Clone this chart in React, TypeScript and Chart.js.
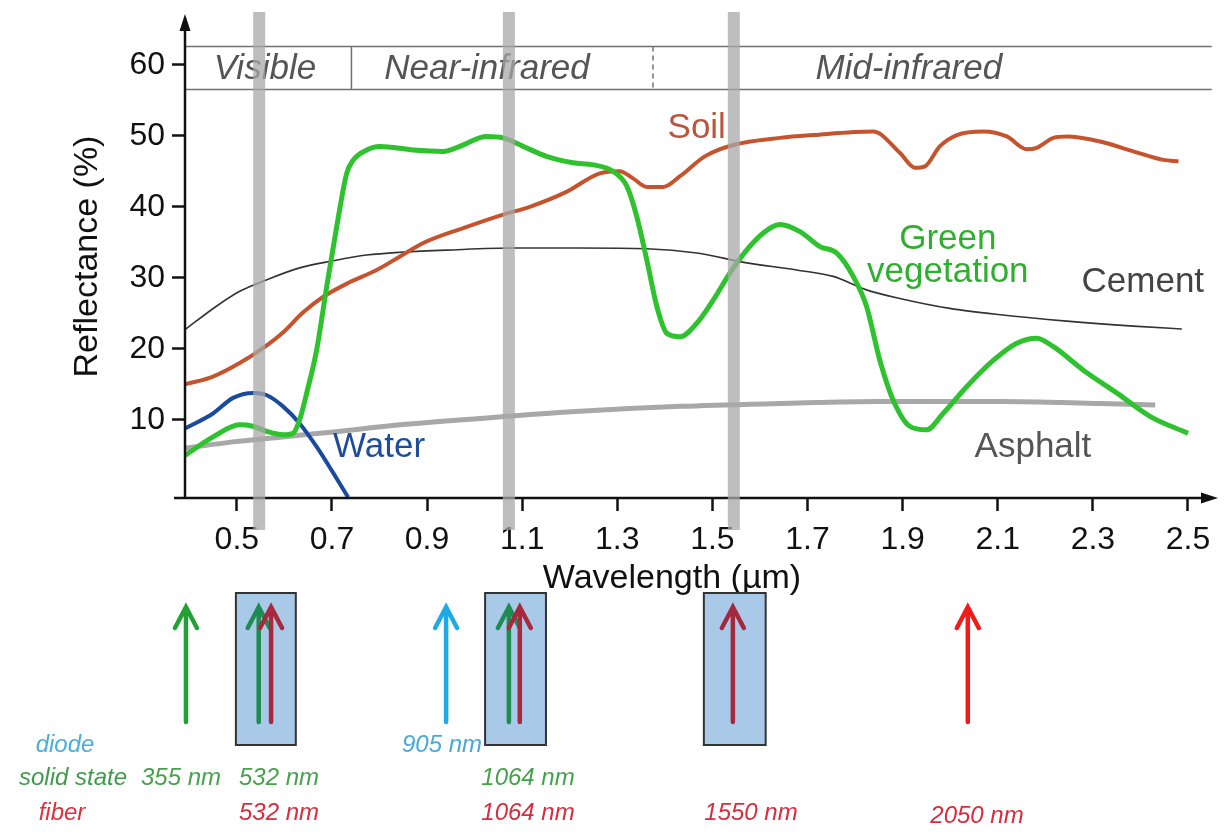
import React, { useEffect, useRef } from 'react';
import { Chart, registerables } from 'chart.js';

Chart.register(...registerables);

const FONT = "'Liberation Sans', Arial, Helvetica, sans-serif";

// ---- data (wavelength in µm, reflectance in %) ----
const wavelengthTicks = [0.5, 0.7, 0.9, 1.1, 1.3, 1.5, 1.7, 1.9, 2.1, 2.3, 2.5];
const reflectanceTicks = [10, 20, 30, 40, 50, 60];

const soil: [number, number][] = [
  [0.391, 15.0], [0.45, 16.1], [0.506, 18.0], [0.555, 20.1], [0.597, 22.3], [0.639, 25.1],
  [0.681, 27.3], [0.738, 29.4], [0.794, 31.1], [0.843, 33.0], [0.892, 34.9], [0.976, 37.0],
  [1.06, 38.9], [1.116, 40.0], [1.193, 42.1], [1.263, 44.7], [1.305, 45.0], [1.333, 44.0],
  [1.362, 42.8], [1.397, 42.8], [1.432, 44.3], [1.484, 47.1], [1.544, 48.7], [1.642, 49.7],
  [1.712, 50.1], [1.838, 50.6], [1.894, 47.6], [1.926, 45.5], [1.947, 45.7], [1.978, 48.5],
  [2.014, 50.1], [2.07, 50.6], [2.119, 49.9], [2.161, 48.1], [2.182, 48.3], [2.217, 49.7],
  [2.245, 49.9], [2.315, 49.2], [2.385, 47.8], [2.448, 46.6], [2.48, 46.4],
];

const vegetation: [number, number][] = [
  [0.391, 5.0], [0.45, 7.6], [0.506, 9.3], [0.534, 9.1], [0.562, 8.4], [0.597, 7.9],
  [0.618, 8.1], [0.632, 10.0], [0.647, 13.8], [0.668, 19.9], [0.689, 28.8], [0.71, 37.2],
  [0.731, 44.7], [0.745, 46.6], [0.773, 48.0], [0.80, 48.5], [0.871, 48.0], [0.934, 47.8],
  [0.969, 48.5], [1.025, 49.9], [1.06, 49.7], [1.102, 48.5], [1.151, 47.1], [1.207, 46.2],
  [1.25, 45.9], [1.291, 45.0], [1.32, 42.9], [1.341, 38.6], [1.362, 32.5], [1.383, 26.0],
  [1.404, 22.2], [1.432, 21.7], [1.467, 23.6], [1.502, 26.9], [1.537, 30.7], [1.572, 33.9],
  [1.607, 36.3], [1.642, 37.5], [1.684, 36.5], [1.726, 34.4], [1.761, 33.5], [1.796, 30.2],
  [1.824, 26.0], [1.852, 18.4], [1.88, 12.8], [1.915, 9.1], [1.95, 8.6], [1.985, 10.9],
  [2.035, 14.7], [2.091, 18.4], [2.14, 20.8], [2.182, 21.5], [2.217, 20.3], [2.28, 17.0],
  [2.35, 13.8], [2.42, 10.5], [2.50, 8.1],
];

const water: [number, number][] = [
  [0.391, 8.8], [0.45, 10.9], [0.492, 13.1], [0.534, 13.8], [0.562, 13.5], [0.597, 11.9],
  [0.632, 9.5], [0.668, 6.2], [0.703, 2.5], [0.734, -0.9],
];

const cement: [number, number][] = [
  [0.391, 22.7], [0.457, 26.0], [0.506, 28.1], [0.562, 29.7], [0.632, 31.4], [0.703, 32.4],
  [0.773, 33.2], [0.843, 33.6], [0.941, 33.9], [1.081, 34.2], [1.221, 34.2], [1.362, 34.1],
  [1.467, 33.5], [1.572, 32.1], [1.677, 31.1], [1.754, 30.2], [1.824, 28.3], [1.894, 27.1],
  [1.999, 25.7], [2.105, 24.8], [2.245, 23.9], [2.385, 23.2], [2.487, 22.8],
];

const asphalt: [number, number][] = [
  [0.391, 6.0], [0.492, 6.9], [0.597, 7.6], [0.703, 8.3], [0.843, 9.3], [1.011, 10.2],
  [1.221, 11.2], [1.432, 11.9], [1.642, 12.3], [1.852, 12.6], [2.105, 12.6], [2.315, 12.3],
  [2.431, 12.1],
];

const regionNames = ['Visible', 'Near-infrared', 'Mid-infrared'];
const regionEdges = [0.391, 0.741, 1.375, 2.55];

const laserLines = [0.547, 1.072, 1.545];
const laserBoxes: [number, number][] = [[0.498, 0.624], [1.022, 1.150], [1.482, 1.612]];

const laserTypes = ['diode', 'solid state', 'fiber'];
const sourceLabels = ['355 nm', '532 nm', '532 nm', '905 nm', '1064 nm', '1064 nm', '1550 nm', '2050 nm'];
const sourceTypes = ['solid state', 'solid state', 'fiber', 'diode', 'solid state', 'fiber', 'fiber', 'fiber'];
const sourceArrowAt = [0.393, 0.546, 0.572, 0.94, 1.072, 1.095, 1.543, 2.037];

export default function App() {
  const ref = useRef<HTMLCanvasElement>(null);

  useEffect(() => {
    const canvas = ref.current;
    if (!canvas) return;
    const toXY = (arr: [number, number][]) => arr.map(([x, y]) => ({ x, y }));

    const overlay = {
      id: 'overlay',
      afterDraw(chart: any) {
        const { ctx, chartArea } = chart;
        const xs = chart.scales.x;
        const ys = chart.scales.y;
        const X = (v: number) => xs.getPixelForValue(v);
        const Y = (v: number) => ys.getPixelForValue(v);
        ctx.save();

        // ---- region band ----
        const bTop = Y(62.55);
        const bBot = Y(56.5);
        const bLeft = chartArea.left;
        const bRight = X(regionEdges[3]);
        ctx.strokeStyle = '#707070';
        ctx.lineWidth = 1.5;
        ctx.beginPath();
        ctx.moveTo(bLeft, bTop); ctx.lineTo(bRight, bTop);
        ctx.moveTo(bLeft, bBot); ctx.lineTo(bRight, bBot);
        ctx.moveTo(X(regionEdges[1]), bTop); ctx.lineTo(X(regionEdges[1]), bBot);
        ctx.stroke();
        ctx.setLineDash([5, 4]);
        ctx.beginPath();
        ctx.moveTo(X(regionEdges[2]), bTop); ctx.lineTo(X(regionEdges[2]), bBot);
        ctx.stroke();
        ctx.setLineDash([]);
        ctx.font = `italic 35px ${FONT}`;
        ctx.fillStyle = '#555';
        ctx.textAlign = 'center';
        ctx.textBaseline = 'middle';
        const regionLabelAt = [0.559, 1.026, 1.913];
        regionNames.forEach((n, i) => ctx.fillText(n, X(regionLabelAt[i]), (bTop + bBot) / 2 + 1));

        // ---- curve labels ----
        ctx.font = `35px ${FONT}`;
        const lab = (t: string, x: number, y: number, c: string) => {
          ctx.fillStyle = c;
          ctx.fillText(t, X(x), Y(y));
        };
        lab('Soil', 1.467, 51.1, '#b8553c');
        lab('Green', 1.995, 35.35, '#2fae2f');
        lab('vegetation', 1.995, 30.7, '#2fae2f');
        lab('Cement', 2.405, 29.4, '#444444');
        lab('Asphalt', 2.174, 6.1, '#555555');
        lab('Water', 0.799, 6.2, '#1e4c9a');

        // ---- axes with arrows ----
        ctx.strokeStyle = '#111';
        ctx.fillStyle = '#111';
        ctx.lineWidth = 2.5;
        const ax = chartArea.left;
        const ay = chartArea.bottom;
        ctx.beginPath();
        ctx.moveTo(ax, ay); ctx.lineTo(ax, chartArea.top + 14);
        ctx.moveTo(ax - 11, ay); ctx.lineTo(chartArea.right - 12, ay);
        ctx.stroke();
        ctx.beginPath();
        ctx.moveTo(ax, chartArea.top - 1);
        ctx.lineTo(ax - 5.5, chartArea.top + 16);
        ctx.lineTo(ax + 5.5, chartArea.top + 16);
        ctx.closePath();
        ctx.fill();
        ctx.beginPath();
        ctx.moveTo(chartArea.right + 1, ay);
        ctx.lineTo(chartArea.right - 16, ay - 5.5);
        ctx.lineTo(chartArea.right - 16, ay + 5.5);
        ctx.closePath();
        ctx.fill();

        // ---- x axis title ----
        ctx.font = `34px ${FONT}`;
        ctx.fillStyle = '#111';
        ctx.fillText('Wavelength (\u00b5m)', X(1.415), 579);

        // ---- laser wavelength bars ----
        ctx.fillStyle = 'rgba(168,168,168,0.75)';
        laserLines.forEach((w) => {
          ctx.fillRect(X(w) - 6, chartArea.top - 3, 12, chartArea.bottom + 32 - (chartArea.top - 3));
        });

        // ---- bottom section: boxes ----
        laserBoxes.forEach(([a, b]) => {
          ctx.fillStyle = '#a9c9e8';
          ctx.fillRect(X(a), 593, X(b) - X(a), 152);
          ctx.strokeStyle = '#333';
          ctx.lineWidth = 2;
          ctx.strokeRect(X(a), 593, X(b) - X(a), 152);
        });

        // arrows
        const arrowColor: Record<string, string> = {
          '355 nm|solid state': '#22a234',
          '532 nm|solid state': '#1e8c50',
          '532 nm|fiber': '#a8283e',
          '905 nm|diode': '#1eaae8',
          '1064 nm|solid state': '#1e8c50',
          '1064 nm|fiber': '#a8283e',
          '1550 nm|fiber': '#a4283e',
          '2050 nm|fiber': '#f01c1c',
        };
        ctx.lineWidth = 4.5;
        ctx.lineCap = 'round';
        ctx.lineJoin = 'miter';
        sourceArrowAt.forEach((w, i) => {
          const x = X(w);
          ctx.strokeStyle = arrowColor[`${sourceLabels[i]}|${sourceTypes[i]}`];
          ctx.beginPath();
          ctx.moveTo(x, 722); ctx.lineTo(x, 608);
          ctx.moveTo(x - 11, 628); ctx.lineTo(x, 607); ctx.lineTo(x + 11, 628);
          ctx.stroke();
        });

        // texts
        const typeRowY: Record<string, number> = { diode: 745, 'solid state': 778, fiber: 813 };
        const typeColor: Record<string, string> = { diode: '#4aaedc', 'solid state': '#3f9a4c', fiber: '#e0303e' };
        ctx.font = `italic 24px ${FONT}`;
        ctx.textAlign = 'center';
        const typeLabelX = [65, 73, 62];
        laserTypes.forEach((t, i) => {
          ctx.fillStyle = typeColor[t];
          ctx.fillText(t, typeLabelX[i], typeRowY[t]);
        });
        const labelColor: Record<string, string> = { diode: '#4aa8d8', 'solid state': '#46a24a', fiber: '#d82c3e' };
        const sourceLabelX = [181, 279, 279, 442, 528, 528, 751, 977];
        sourceLabels.forEach((t, i) => {
          const ty = sourceTypes[i];
          ctx.fillStyle = labelColor[ty];
          ctx.fillText(t, sourceLabelX[i], typeRowY[ty] + (i === 7 ? 3 : 0));
        });

        ctx.restore();
      },
    };

    const tickGrid = {
      drawOnChartArea: false,
      drawTicks: true,
      tickLength: 13,
      tickWidth: 2.5,
      tickColor: '#111',
    };

    const chart = new Chart(canvas, {
      type: 'line',
      data: {
        datasets: [
          { label: 'Green vegetation', data: toXY(vegetation), borderColor: '#2ec22e', borderWidth: 5, cubicInterpolationMode: 'monotone', pointRadius: 0, fill: false },
          { label: 'Water', data: toXY(water), borderColor: '#1a4a9e', borderWidth: 4, cubicInterpolationMode: 'monotone', pointRadius: 0, fill: false },
          { label: 'Soil', data: toXY(soil), borderColor: '#c4532e', borderWidth: 4, cubicInterpolationMode: 'monotone', pointRadius: 0, fill: false },
          { label: 'Cement', data: toXY(cement), borderColor: '#333333', borderWidth: 1.6, cubicInterpolationMode: 'monotone', pointRadius: 0, fill: false },
          { label: 'Asphalt', data: toXY(asphalt), borderColor: '#a8a8a8', borderWidth: 5, cubicInterpolationMode: 'monotone', pointRadius: 0, fill: false },
        ] as any,
      },
      options: {
        animation: false,
        responsive: false,
        devicePixelRatio: 1,
        layout: { padding: { left: 0, top: 15, right: 13, bottom: 240 } },
        plugins: { legend: { display: false }, tooltip: { enabled: false } },
        elements: { point: { radius: 0 } },
        scales: {
          x: {
            type: 'linear',
            min: 0.391,
            max: 2.561,
            afterFit: (s: any) => { s.height = 97; s.paddingLeft = 0; s.paddingRight = 0; },
            afterBuildTicks: (s: any) => { s.ticks = wavelengthTicks.map((v) => ({ value: v })); },
            grid: tickGrid,
            border: { display: false },
            ticks: {
              font: { family: FONT, size: 32 },
              color: '#111',
              padding: 10,
              maxRotation: 0,
              autoSkip: false,
              callback: (v: any) => Number(v).toFixed(1),
            },
          },
          y: {
            type: 'linear',
            min: -1,
            max: 67,
            afterFit: (s: any) => { s.width = 185; s.paddingTop = 0; s.paddingBottom = 0; },
            afterBuildTicks: (s: any) => { s.ticks = reflectanceTicks.map((v) => ({ value: v })); },
            grid: tickGrid,
            border: { display: false },
            ticks: {
              font: { family: FONT, size: 32 },
              color: '#111',
              padding: 7,
              callback: (v: any) => String(v),
            },
            title: {
              display: true,
              text: 'Reflectance (%)',
              font: { family: FONT, size: 34 },
              color: '#111',
              padding: { top: 67, bottom: 0 },
            },
          },
        },
      } as any,
      plugins: [overlay],
    });
    return () => chart.destroy();
  }, []);

  return (
    <div style={{ position: 'fixed', left: 0, top: 0, width: 1230, height: 835, background: '#ffffff' }}>
      <canvas ref={ref} width={1230} height={835} style={{ width: 1230, height: 835, display: 'block' }} />
    </div>
  );
}
